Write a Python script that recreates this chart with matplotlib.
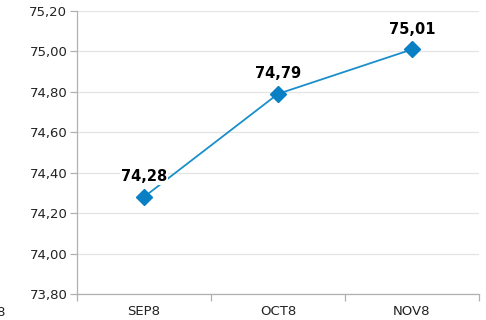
import matplotlib
matplotlib.use("Agg")
import matplotlib.pyplot as plt
from matplotlib.ticker import FuncFormatter, FixedLocator

months = ["SEP8", "OCT8", "NOV8"]
values = [74.28, 74.79, 75.01]
y_ticks = [73.80, 74.00, 74.20, 74.40, 74.60, 74.80, 75.00, 75.20]

plt.rcParams["font.family"] = ["DejaVu Sans"]

fig = plt.figure(figsize=(4.86, 3.2), dpi=100)
ax = fig.add_axes([77 / 486, 1 - 294 / 320, 402 / 486, 283 / 320])

x = range(len(months))
ax.plot(x, values, color="#1a8fca", lw=1.3, marker="D", markersize=8,
        markerfacecolor="#0a80c4", markeredgecolor="#0a80c4", zorder=3)

for xi, v in zip(x, values):
    ax.annotate(f"{v:.2f}".replace(".", ","), (xi, v), xytext=(0, 9),
                textcoords="offset points", ha="center", va="bottom",
                fontsize=10.5, fontweight="bold", color="black", zorder=4,
                bbox=dict(boxstyle="square,pad=0.05", fc="white", ec="none"))

ax.set_xlim(-0.5, 2.5)
ax.set_ylim(73.80, 75.20)
ax.set_xticks(list(x))
ax.set_xticklabels(months)
ax.xaxis.set_minor_locator(FixedLocator([-0.5, 0.5, 1.5, 2.5]))
ax.set_yticks(y_ticks)
ax.yaxis.set_major_formatter(FuncFormatter(lambda v, p: f"{v:.2f}".replace(".", ",")))

ax.grid(axis="y", color="#e4e4e4", lw=0.9)
ax.set_axisbelow(True)
for s in ["top", "right"]:
    ax.spines[s].set_visible(False)
for s in ["left", "bottom"]:
    ax.spines[s].set_color("#b0b0b0")
    ax.spines[s].set_linewidth(0.9)

ax.tick_params(axis="x", which="major", length=0, pad=8, labelsize=9.5, colors="#222222")
ax.tick_params(axis="x", which="minor", length=5, color="#b0b0b0", width=0.9)
ax.tick_params(axis="y", length=5, color="#b0b0b0", width=0.9, pad=2,
               labelsize=9.5, labelcolor="#222222")

fig.text(4 / 486, 1 / 320, "8", ha="right", va="bottom", fontsize=9.5, color="#222222")

fig.savefig("out.png", dpi=100)
